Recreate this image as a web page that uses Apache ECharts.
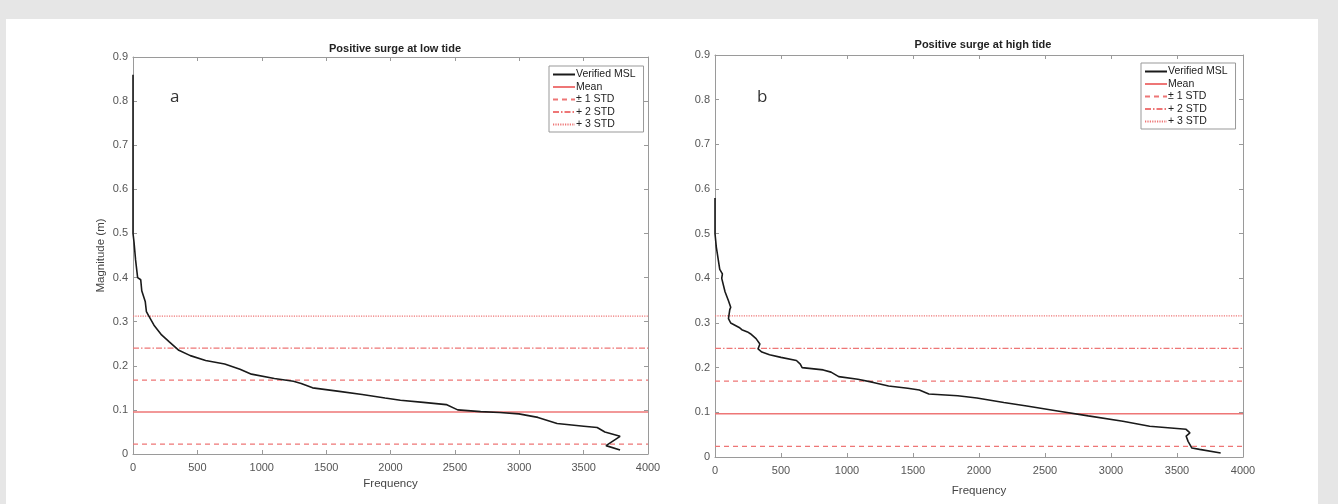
<!DOCTYPE html>
<html>
<head>
<meta charset="utf-8">
<script src="https://cdn.jsdelivr.net/npm/echarts@6/dist/echarts.min.js"></script>
<style>
html,body{margin:0;padding:0;background:#e6e6e6;width:1338px;height:504px;overflow:hidden;}
#panel{position:absolute;left:6px;top:19px;width:1312px;height:485px;background:#fff;}
#chart{position:absolute;left:0;top:0;width:1338px;height:504px;}
</style>
</head>
<body>
<div id="panel"></div>
<div id="chart"></div>
<script>
// ---- data ----
var titles = ['Positive surge at low tide', 'Positive surge at high tide'];
var panelLabels = ['a', 'b'];
var xTicks = [0, 500, 1000, 1500, 2000, 2500, 3000, 3500, 4000];
var yTicks = [0, 0.1, 0.2, 0.3, 0.4, 0.5, 0.6, 0.7, 0.8, 0.9];

// Verified MSL curve, low tide: [frequency, magnitude]
var lowCurve = [
  [0,0.86],[0,0.5],[8,0.48],[20,0.44],[36,0.40],[60,0.395],[68,0.37],[95,0.346],[104,0.323],
  [119,0.315],[163,0.292],[222,0.27],[282,0.254],[356,0.235],[445,0.223],[564,0.212],
  [712,0.204],[831,0.192],[920,0.181],[1098,0.171],[1246,0.165],[1306,0.16],[1395,0.15],
  [1602,0.142],[1780,0.135],[1958,0.127],[2077,0.122],[2255,0.117],[2433,0.112],[2522,0.1],
  [2700,0.096],[2849,0.094],[2997,0.091],[3145,0.083],[3294,0.069],[3501,0.063],[3605,0.06],
  [3665,0.05],[3783,0.04],[3674,0.019],[3783,0.009]
];
// Verified MSL curve, high tide
var highCurve = [
  [0,0.58],[0,0.5],[10,0.47],[36,0.42],[56,0.41],[51,0.40],[76,0.37],[102,0.35],[119,0.335],
  [112,0.33],[102,0.31],[119,0.30],[183,0.29],[203,0.285],[246,0.28],[268,0.276],[311,0.265],
  [340,0.253],[326,0.242],[355,0.235],[413,0.229],[500,0.223],[617,0.216],[646,0.208],
  [660,0.20],[820,0.195],[879,0.19],[937,0.18],[1082,0.174],[1199,0.167],[1315,0.159],
  [1460,0.154],[1548,0.15],[1620,0.141],[1839,0.137],[1984,0.132],[2188,0.122],[2362,0.114],
  [2595,0.103],[2828,0.092],[3090,0.08],[3293,0.069],[3569,0.062],[3598,0.054],[3569,0.047],
  [3584,0.035],[3613,0.02],[3671,0.017],[3831,0.009]
];
// statistics: mean and standard deviation
var lowStats = {mean: 0.095, std: 0.0725};
var highStats = {mean: 0.097, std: 0.073};
var xRange = [0, 4000];

var seriesNames = ['Verified MSL', 'Mean', '\u00b1 1 STD', '+ 2 STD', '+ 3 STD'];

// ---- styles ----
var RED = '#ee7676';
var FONT = '"Liberation Sans", Arial, sans-serif';
var lineTypes = {
  'Mean': 'solid',
  '\u00b1 1 STD': [5, 4],
  '+ 2 STD': [6, 2, 1.5, 2],
  '+ 3 STD': [1.2, 1.2]
};

function hline(y) { return [[xRange[0], y], [xRange[1], y]]; }

function buildSeries(idx, curve, st) {
  var s = [];
  s.push({name: seriesNames[0], type: 'line', xAxisIndex: idx*2, yAxisIndex: idx*2, data: curve,
    symbol: 'none', lineStyle: {color: '#1a1a1a', width: 1.6}, itemStyle: {color: '#1a1a1a'}, z: 5, animation: false});
  var stat = [
    [seriesNames[1], st.mean],
    [seriesNames[2], st.mean + st.std],
    [seriesNames[2], st.mean - st.std],
    [seriesNames[3], st.mean + 2*st.std],
    [seriesNames[4], st.mean + 3*st.std]
  ];
  stat.forEach(function (p) {
    s.push({name: p[0], type: 'line', xAxisIndex: idx*2, yAxisIndex: idx*2, data: hline(p[1]),
      symbol: 'none', lineStyle: {color: RED, width: p[0] === 'Mean' ? 1.5 : 1.3, type: lineTypes[p[0]]},
      itemStyle: {color: RED}, z: 3, animation: false});
  });
  return s;
}

var grids = [
  {left: 133, right: 690, top: 57, bottom: 50},
  {left: 715, right: 95, top: 55, bottom: 47}
];

var axisColor = '#9a9a9a';
function xAxes(gi, gap) {
  return [
    {type: 'value', gridIndex: gi, min: 0, max: 4000, interval: 500, position: 'bottom',
      name: 'Frequency', nameLocation: 'middle', nameGap: gap,
      nameTextStyle: {fontFamily: FONT, fontSize: 11.5, color: '#444'},
      axisLine: {show: true, onZero: false, lineStyle: {color: axisColor}},
      axisTick: {show: true, inside: true, length: 4, lineStyle: {color: axisColor}},
      axisLabel: {fontFamily: FONT, fontSize: 11, color: '#555', margin: 8,
        formatter: function (v) { return String(v); }},
      splitLine: {show: false}},
    {type: 'value', gridIndex: gi, min: 0, max: 4000, interval: 500, position: 'top',
      axisLine: {show: true, onZero: false, lineStyle: {color: axisColor}},
      axisTick: {show: true, inside: true, length: 4, lineStyle: {color: axisColor}},
      axisLabel: {show: false}, splitLine: {show: false}}
  ];
}
function yAxes(gi, withName) {
  return [
    {type: 'value', gridIndex: gi, min: 0, max: 0.9, interval: 0.1, position: 'left',
      name: withName ? 'Magnitude (m)' : '', nameLocation: 'middle', nameGap: 26,
      nameTextStyle: {fontFamily: FONT, fontSize: 11.5, color: '#444'},
      axisLine: {show: true, onZero: false, lineStyle: {color: axisColor}},
      axisTick: {show: true, inside: true, length: 4, lineStyle: {color: axisColor}},
      axisLabel: {fontFamily: FONT, fontSize: 11, color: '#555', margin: 5,
        formatter: function (v) { return String(Math.round(v*10)/10); }},
      splitLine: {show: false}},
    {type: 'value', gridIndex: gi, min: 0, max: 0.9, interval: 0.1, position: 'right',
      axisLine: {show: true, onZero: false, lineStyle: {color: axisColor}},
      axisTick: {show: true, inside: true, length: 4, lineStyle: {color: axisColor}},
      axisLabel: {show: false}, splitLine: {show: false}}
  ];
}

var legendCommon = {
  orient: 'vertical', data: seriesNames, itemWidth: 22, itemHeight: 8, itemGap: 1.5,
  backgroundColor: '#fff', borderColor: '#999', borderWidth: 1, padding: [3, 8, 2, 3],
  itemStyle: {opacity: 0, borderWidth: 0},
  textStyle: {fontFamily: FONT, fontSize: 10.5, color: '#222', padding: [0,0,0,-4]},
  selectedMode: false
};

var option = {
  backgroundColor: 'transparent',
  animation: false,
  title: [
    {text: titles[0], left: 390, top: 38, textAlign: 'center',
      textStyle: {fontFamily: FONT, fontSize: 11, fontWeight: 'bold', color: '#222'}},
    {text: titles[1], left: 978, top: 34, textAlign: 'center',
      textStyle: {fontFamily: FONT, fontSize: 11, fontWeight: 'bold', color: '#222'}},
    {text: panelLabels[0], left: 165, top: 84,
      textStyle: {fontFamily: '"Open Sans", sans-serif', fontSize: 17, fontWeight: 'normal', color: '#333'}},
    {text: panelLabels[1], left: 752, top: 84,
      textStyle: {fontFamily: '"Open Sans", sans-serif', fontSize: 17, fontWeight: 'normal', color: '#333'}}
  ],
  legend: [
    Object.assign({}, legendCommon, {left: 549, top: 66}),
    Object.assign({}, legendCommon, {left: 1141, top: 63})
  ],
  grid: grids,
  xAxis: xAxes(0, 24).concat(xAxes(1, 28)),
  yAxis: yAxes(0, true).concat(yAxes(1, false)),
  series: buildSeries(0, lowCurve, lowStats).concat(buildSeries(1, highCurve, highStats))
};

var chart = echarts.init(document.getElementById('chart'), null, {renderer: 'canvas'});
chart.setOption(option);
</script>
</body>
</html>
